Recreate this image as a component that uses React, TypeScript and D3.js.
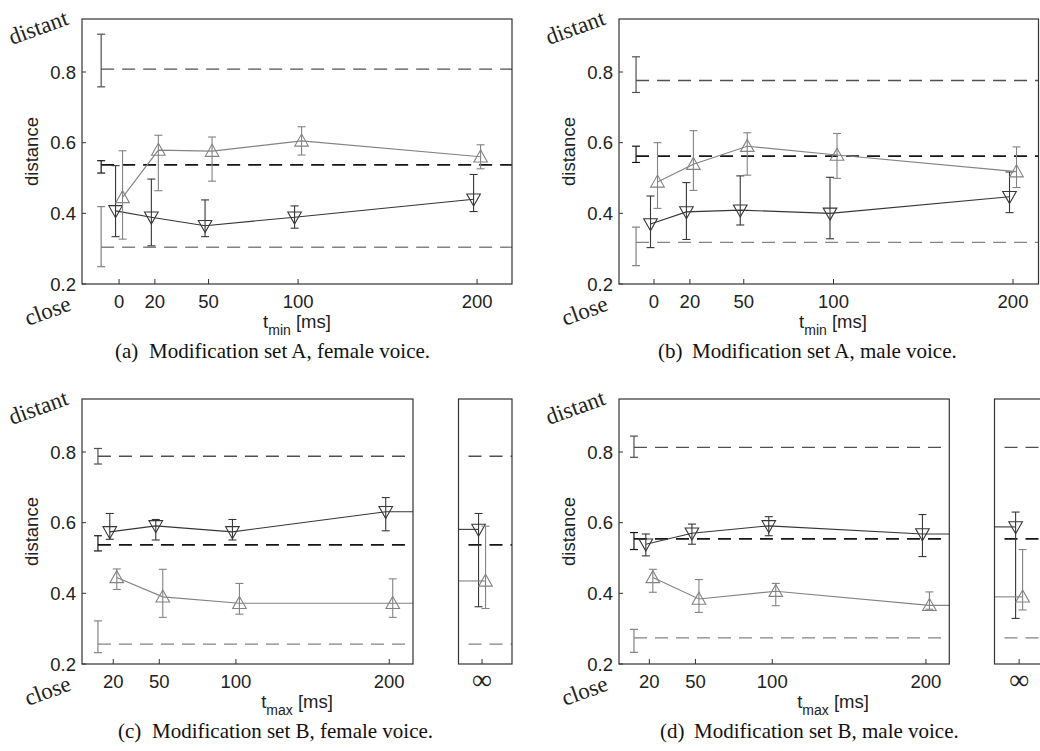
import React from 'react';
import * as d3 from 'd3';

// ---------- data ----------
const tMinTicks = [0, 20, 50, 100, 200];
const tMaxTicks = [20, 50, 100, 200];
const yTicks = [0.2, 0.4, 0.6, 0.8];

// (a) set A, female: reference levels [distant, natural, close]
const refAF = [0.808, 0.537, 0.304];
const refLoAF = [0.758, 0.514, 0.249];
const refHiAF = [0.907, 0.549, 0.419];
const upAF = [0.445, 0.579, 0.576, 0.605, 0.560];
const upLoAF = [0.327, 0.464, 0.491, 0.565, 0.526];
const upHiAF = [0.577, 0.621, 0.616, 0.645, 0.594];
const downAF = [0.407, 0.389, 0.365, 0.389, 0.440];
const downLoAF = [0.334, 0.308, 0.334, 0.358, 0.405];
const downHiAF = [0.535, 0.497, 0.438, 0.421, 0.510];

// (b) set A, male
const refAM = [0.776, 0.562, 0.318];
const refLoAM = [0.742, 0.544, 0.252];
const refHiAM = [0.843, 0.590, 0.361];
const upAM = [0.489, 0.539, 0.590, 0.565, 0.518];
const upLoAM = [0.414, 0.465, 0.508, 0.499, 0.473];
const upHiAM = [0.600, 0.634, 0.628, 0.626, 0.588];
const downAM = [0.370, 0.404, 0.409, 0.400, 0.447];
const downLoAM = [0.303, 0.326, 0.367, 0.328, 0.402];
const downHiAM = [0.449, 0.487, 0.506, 0.502, 0.517];

// (c) set B, female (last entry = infinity)
const refBF = [0.788, 0.537, 0.256];
const refLoBF = [0.766, 0.520, 0.232];
const refHiBF = [0.810, 0.563, 0.322];
const upBF = [0.445, 0.390, 0.372, 0.372, 0.435];
const upLoBF = [0.411, 0.332, 0.341, 0.332, 0.357];
const upHiBF = [0.469, 0.468, 0.428, 0.441, 0.590];
const downBF = [0.574, 0.591, 0.574, 0.631, 0.581];
const downLoBF = [0.553, 0.551, 0.551, 0.577, 0.362];
const downHiBF = [0.626, 0.609, 0.609, 0.671, 0.626];

// (d) set B, male (last entry = infinity)
const refBM = [0.813, 0.554, 0.274];
const refLoBM = [0.785, 0.524, 0.233];
const refHiBM = [0.845, 0.572, 0.298];
const upBM = [0.445, 0.384, 0.406, 0.366, 0.390];
const upLoBM = [0.403, 0.346, 0.365, 0.355, 0.353];
const upHiBM = [0.468, 0.439, 0.428, 0.404, 0.524];
const downBM = [0.539, 0.570, 0.591, 0.568, 0.588];
const downLoBM = [0.506, 0.539, 0.563, 0.504, 0.329];
const downHiBM = [0.568, 0.596, 0.617, 0.623, 0.630];

// ---------- style ----------
const SANS = '"Liberation Sans", Arial, Helvetica, sans-serif';
const SERIF = '"Liberation Serif", "Times New Roman", serif';
const C_DARK = '#363636';
const C_LIGHT = '#838383';
const REF_COLORS = ['#505050', '#161616', '#838383'];
const REF_WIDTHS = [1.3, 1.7, 1.3];
const AXIS = '#333333';
const CAP = 4;
const OFF = 3.5;

type Spec = {
  left: number; right: number; top: number; bottom: number;
  domain: [number, number]; ticks: number[]; refT: number;
  ref: number[]; refLo: number[]; refHi: number[];
  up: number[]; upLo: number[]; upHi: number[];
  down: number[]; downLo: number[]; downHi: number[];
  inf: null | { left: number; right: number; pos: number };
  sub: string; capLabel: string; capText: string; capX: number; xLabelX: number;
};

function triPath(cx: number, cy: number, up: boolean) {
  const w = 6.8;
  if (up) return `M${cx},${cy - 6.8}L${cx + w},${cy + 5.2}L${cx - w},${cy + 5.2}Z`;
  return `M${cx},${cy + 6.8}L${cx + w},${cy - 5.2}L${cx - w},${cy - 5.2}Z`;
}

function ErrBar({ x, y0, y1, color, w = 1.1 }: any) {
  return (
    <g stroke={color} strokeWidth={w} fill="none">
      <line x1={x} x2={x} y1={y0} y2={y1} />
      <line x1={x - CAP} x2={x + CAP} y1={y0} y2={y0} />
      <line x1={x - CAP} x2={x + CAP} y1={y1} y2={y1} />
    </g>
  );
}

function Panel({ s }: { s: Spec }) {
  const x = d3.scaleLinear().domain(s.domain).range([s.left, s.right]);
  const y = d3.scaleLinear().domain([0.2, 0.95]).range([s.bottom, s.top]);
  const n = s.ticks.length;
  const line = d3.line<[number, number]>().x(d => d[0]).y(d => d[1]);

  const series = [
    { v: s.down, lo: s.downLo, hi: s.downHi, c: C_DARK, off: -OFF, up: false },
    { v: s.up, lo: s.upLo, hi: s.upHi, c: C_LIGHT, off: OFF, up: true },
  ];

  const infX = s.inf ? d3.scaleLinear().domain([0, 1]).range([s.inf.left, s.inf.right]) : null;

  return (
    <g>
      {/* reference dashed lines */}
      {s.ref.map((r, i) => (
        <line key={'r' + i} x1={x(s.refT)} x2={s.right} y1={y(r)} y2={y(r)}
          stroke={REF_COLORS[i]} strokeWidth={REF_WIDTHS[i]} strokeDasharray="13 8" />
      ))}
      {s.ref.map((r, i) => (
        <ErrBar key={'rb' + i} x={x(s.refT)} y0={y(s.refLo[i])} y1={y(s.refHi[i])} color={REF_COLORS[i]} w={1.2} />
      ))}
      {/* series */}
      {series.map((se, k) => {
        const pts: [number, number][] = s.ticks.map((t, i) => [x(t) + se.off, y(se.v[i])]);
        if (s.inf) pts.push([s.right, y(se.v[n - 1])]);
        return (
          <g key={'s' + k}>
            <path d={line(pts) || ''} fill="none" stroke={se.c} strokeWidth={1.1} />
            {s.ticks.map((t, i) => (
              <ErrBar key={i} x={x(t) + se.off} y0={y(se.lo[i])} y1={y(se.hi[i])} color={se.c} />
            ))}
            {s.ticks.map((t, i) => (
              <path key={'m' + i} d={triPath(x(t) + se.off, y(se.v[i]), se.up)} fill="none" stroke={se.c} strokeWidth={1.1} />
            ))}
          </g>
        );
      })}
      {/* main axes box */}
      <rect x={s.left} y={s.top} width={s.right - s.left} height={s.bottom - s.top} fill="none" stroke={AXIS} strokeWidth={1.2} />
      {yTicks.map(t => (
        <g key={'yt' + t}>
          <line x1={s.left} x2={s.left + 4} y1={y(t)} y2={y(t)} stroke={AXIS} strokeWidth={1} />
          <text x={s.left - 6} y={y(t)} textAnchor="end" dominantBaseline="central" fontFamily={SANS} fontSize={18.5} fill="#222">{t.toFixed(1)}</text>
        </g>
      ))}
      {s.ticks.map(t => (
        <g key={'xt' + t}>
          <line x1={x(t)} x2={x(t)} y1={s.bottom} y2={s.bottom - 5} stroke={AXIS} strokeWidth={1} />
          <text x={x(t)} y={s.bottom + 24} textAnchor="middle" fontFamily={SANS} fontSize={18.5} fill="#222">{t}</text>
        </g>
      ))}
      {/* infinity panel */}
      {s.inf && infX && (
        <g>
          {s.ref.map((r, i) => (
            <line key={'ir' + i} x1={s.inf!.left + 10} x2={s.inf!.right} y1={y(r)} y2={y(r)}
              stroke={REF_COLORS[i]} strokeWidth={REF_WIDTHS[i]} strokeDasharray="13 8" />
          ))}
          {series.map((se, k) => {
            const cx = infX(s.inf!.pos) + se.off;
            const vy = y(se.v[n]);
            return (
              <g key={'is' + k}>
                <line x1={s.inf!.left} x2={cx} y1={vy} y2={vy} stroke={se.c} strokeWidth={1.1} />
                <ErrBar x={cx} y0={y(se.lo[n])} y1={y(se.hi[n])} color={se.c} />
                <path d={triPath(cx, vy, se.up)} fill="none" stroke={se.c} strokeWidth={1.1} />
              </g>
            );
          })}
          <rect x={s.inf.left} y={s.top} width={s.inf.right - s.inf.left} height={s.bottom - s.top} fill="none" stroke={AXIS} strokeWidth={1.2} />
          <line x1={infX(s.inf.pos)} x2={infX(s.inf.pos)} y1={s.bottom} y2={s.bottom - 5} stroke={AXIS} strokeWidth={1} />
          <text x={infX(s.inf.pos)} y={s.bottom + 25} textAnchor="middle" fontFamily={SERIF} fontSize={28} fill="#222">∞</text>
        </g>
      )}
      {/* labels */}
      <text transform={`translate(${s.left - 51},${(s.top + s.bottom) / 2}) rotate(-90)`} textAnchor="middle" dominantBaseline="central" fontFamily={SANS} fontSize={18.5} fill="#222">distance</text>
      <text transform={`translate(${s.left - 70},${s.top + 26}) rotate(-20)`} fontFamily={SERIF} fontSize={23} fill="#222">distant</text>
      <text transform={`translate(${s.left - 54},${s.bottom + 42}) rotate(-20)`} fontFamily={SERIF} fontSize={23} fill="#222">close</text>
      <text x={s.xLabelX} y={s.bottom + 44} textAnchor="middle" fontFamily={SANS} fontSize={18.5} fill="#222">
        <tspan>t</tspan>
        <tspan fontSize={14} dy={7}>{s.sub}</tspan>
        <tspan dy={-7}> [ms]</tspan>
      </text>
      <text x={s.capX} y={s.bottom + 74} fontFamily={SERIF} fontSize={21} fill="#111">
        <tspan>{s.capLabel}</tspan>
        <tspan x={s.capX + 34}>{s.capText}</tspan>
      </text>
    </g>
  );
}

const specs: Spec[] = [
  {
    left: 82, right: 512, top: 19, bottom: 284, domain: [-20.7, 219.5], ticks: tMinTicks, refT: -10,
    ref: refAF, refLo: refLoAF, refHi: refHiAF, up: upAF, upLo: upLoAF, upHi: upHiAF,
    down: downAF, downLo: downLoAF, downHi: downHiAF, inf: null, sub: 'min',
    capLabel: '(a)', capText: 'Modification set A, female voice.', capX: 115, xLabelX: 297,
  },
  {
    left: 619, right: 1038.5, top: 19, bottom: 284, domain: [-19.5, 214.2], ticks: tMinTicks, refT: -10,
    ref: refAM, refLo: refLoAM, refHi: refHiAM, up: upAM, upLo: upLoAM, upHi: upHiAM,
    down: downAM, downLo: downLoAM, downHi: downHiAM, inf: null, sub: 'min',
    capLabel: '(b)', capText: 'Modification set A, male voice.', capX: 658, xLabelX: 833,
  },
  {
    left: 82, right: 413, top: 399, bottom: 664, domain: [-0.4, 215.5], ticks: tMaxTicks, refT: 10,
    ref: refBF, refLo: refLoBF, refHi: refHiBF, up: upBF, upLo: upLoBF, upHi: upHiBF,
    down: downBF, downLo: downLoBF, downHi: downHiBF, inf: { left: 458.5, right: 512, pos: 0.44 }, sub: 'max',
    capLabel: '(c)', capText: 'Modification set B, female voice.', capX: 118, xLabelX: 297,
  },
  {
    left: 619, right: 949.3, top: 399, bottom: 664, domain: [0.26, 215.2], ticks: tMaxTicks, refT: 10,
    ref: refBM, refLo: refLoBM, refHi: refHiBM, up: upBM, upLo: upLoBM, upHi: upHiBM,
    down: downBM, downLo: downLoBM, downHi: downHiBM, inf: { left: 994.5, right: 1048, pos: 0.46 }, sub: 'max',
    capLabel: '(d)', capText: 'Modification set B, male voice.', capX: 660, xLabelX: 833,
  },
];

export default function App() {
  return (
    <svg width={1040} height={751} viewBox="0 0 1040 751" style={{ position: 'absolute', left: 0, top: 0, background: '#fff' }}>
      <rect x={0} y={0} width={1040} height={751} fill="#fff" />
      {specs.map((s, i) => <Panel key={i} s={s} />)}
    </svg>
  );
}
